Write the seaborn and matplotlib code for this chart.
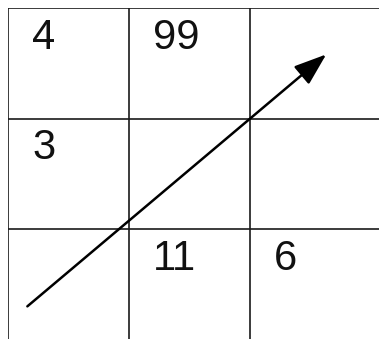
import numpy as np
import matplotlib
matplotlib.use("Agg")
import matplotlib.pyplot as plt
from matplotlib.colors import ListedColormap
from matplotlib.patches import FancyArrowPatch
import seaborn as sns

# cell values, row by row (None = empty cell)
row_1 = [4, 99, None]
row_2 = [3, None, None]
row_3 = [None, 11, 6]

# arrow from lower left to upper right, in cell units
arrow_start = (0.16, 2.70)
arrow_end = (2.63, 0.42)

grid = np.array([row_1, row_2, row_3], dtype=float)
n_rows, n_cols = grid.shape

sns.set_style("white")
plt.rcParams["font.family"] = ["Liberation Sans", "DejaVu Sans"]

fig = plt.figure(figsize=(3.79, 3.39), dpi=100)
# one cell is about 121 x 110.5 px; grid runs off the right and bottom edges
cell_w, cell_h = 121 / 379, 110.5 / 339
x_max, y_max = 3.1, 3.1
ax = fig.add_axes([8 / 379, 1 - 8 / 339 - y_max * cell_h, x_max * cell_w, y_max * cell_h])

sns.heatmap(np.zeros_like(grid), cmap=ListedColormap(["white"]), cbar=False,
            linewidths=0, xticklabels=False, yticklabels=False, ax=ax)

line_kw = dict(color="#1a1a1a", lw=1.2, zorder=3)
for i in range(n_cols):
    ax.axvline(i, **line_kw)
for j in range(n_rows):
    ax.axhline(j, **line_kw)

for r in range(n_rows):
    for c in range(n_cols):
        if not np.isnan(grid[r, c]):
            ax.text(c + 0.2, r + 0.09, f"{int(grid[r, c])}", ha="left", va="top",
                    fontsize=30, color="#111111")

arrow = FancyArrowPatch(arrow_start, arrow_end,
                        arrowstyle="-|>,head_length=1.0,head_width=0.36",
                        mutation_scale=20, lw=1.8, color="black",
                        shrinkA=0, shrinkB=0, zorder=4)
ax.add_patch(arrow)

ax.set_xlim(0, x_max)
ax.set_ylim(y_max, 0)
for s in ax.spines.values():
    s.set_visible(False)

fig.savefig("out.png", dpi=100)
